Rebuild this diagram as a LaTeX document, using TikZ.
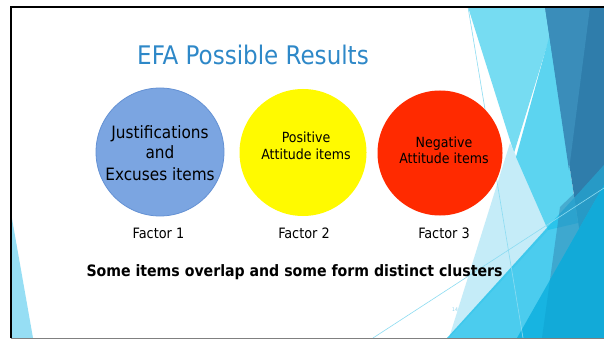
\documentclass[tikz,border=0pt]{standalone}
\usepackage{fontspec}
\setmainfont{DejaVu Sans Condensed}
\definecolor{titleblue}{RGB}{46,136,200}
\definecolor{bubbleblue}{RGB}{123,165,225}
\definecolor{bubbleedge}{RGB}{100,145,212}
\definecolor{bubbleyellow}{RGB}{255,250,0}
\definecolor{bubblered}{RGB}{255,42,0}
\definecolor{lcyan}{RGB}{118,220,242}
\definecolor{mcyan}{RGB}{92,212,240}
\definecolor{pale}{RGB}{197,236,248}
\definecolor{dblueA}{RGB}{58,141,186}
\definecolor{dblueB}{RGB}{47,125,171}
\definecolor{bcyan}{RGB}{30,192,234}
\definecolor{scyan}{RGB}{23,180,225}
\definecolor{scyandark}{RGB}{18,170,216}
\definecolor{sliver}{RGB}{150,222,244}
\definecolor{thinline}{RGB}{140,220,242}
\definecolor{pagenum}{RGB}{140,210,235}
\begin{document}
\begin{tikzpicture}[x=1pt,y=-1pt,
  bubble/.style={circle, inner sep=0pt},
  linetext/.style={anchor=base, inner sep=0pt, text=black},
  factor/.style={anchor=base, inner sep=0pt, text=black, font=\fontsize{14.3}{17}\selectfont}]
\useasboundingbox (0,0) rectangle (604,339);
\fill[white] (0,0) rectangle (604,339);
% background facets
\fill[sliver] (11,213) -- (33,338) -- (11,338) -- cycle;
\fill[lcyan] (468,7) -- (545,7) -- (550,36) -- (514,153) -- cycle;
\fill[pale] (510,143) -- (517,158) -- (552,226) -- (449,338) -- cycle;
\fill[mcyan] (550,34) -- (578,223) -- (548,230) -- (516,157) -- cycle;
\fill[dblueB] (545,7) -- (604,7) -- (604,338) -- (596,338) -- cycle;
\fill[dblueA] (545,7) -- (590,7) -- (569,170) -- cycle;
\fill[bcyan, fill opacity=0.8] (447,338) -- (604,165) -- (604,338) -- cycle;
\fill[dblueB, fill opacity=0.45] (560,207) -- (604,165) -- (604,338) -- (542,338) -- cycle;
\fill[scyan] (517,338) -- (604,185) -- (604,338) -- cycle;
\fill[scyandark] (550,280) -- (604,185) -- (604,338) -- (542,338) -- cycle;
\draw[thinline, line width=0.6pt] (468,7) -- (523,338);
\draw[thinline, line width=0.6pt] (373,338) -- (604,188);
% title
\node[anchor=base, inner sep=0pt, text=titleblue, font=\fontsize{25.6}{30}\selectfont] (title) at (253,65) {EFA Possible Results};
% bubbles
\node[bubble, minimum size=128pt, fill=bubbleblue, draw=bubbleedge, line width=0.8pt] (c1) at (160,152) {};
\node[bubble, minimum size=127pt, fill=bubbleyellow] (c2) at (303,152.5) {};
\node[bubble, minimum size=125pt, fill=bubblered] (c3) at (440,153) {};
% bubble texts
\node[linetext, font=\fontsize{17}{21}\selectfont] (t1a) at (160,138.3) {Justifications};
\node[linetext, font=\fontsize{17}{21}\selectfont] (t1b) at (160,159) {and};
\node[linetext, font=\fontsize{17}{21}\selectfont] (t1c) at (160,180) {Excuses items};
\node[linetext, font=\fontsize{14}{17}\selectfont] (t2a) at (306,142.7) {Positive};
\node[linetext, font=\fontsize{14}{17}\selectfont] (t2b) at (306,160) {Attitude items};
\node[linetext, font=\fontsize{14}{17}\selectfont] (t3a) at (444,147) {Negative};
\node[linetext, font=\fontsize{14}{17}\selectfont] (t3b) at (444,164) {Attitude items};
% factor labels
\node[factor] (f1) at (158.5,238.3) {Factor 1};
\node[factor] (f2) at (304,238) {Factor 2};
\node[factor] (f3) at (444,238) {Factor 3};
% statement
\node[linetext, font=\bfseries\fontsize{15.7}{19}\selectfont] (note) at (294.5,276) {Some items overlap and some form distinct clusters};
% page number
\node[anchor=base, inner sep=0pt, text=pagenum, font=\fontsize{5}{6}\selectfont] (page) at (455,311) {14};
% slide frame
\draw[gray, line width=1pt] (11,338.5) -- (604,338.5);
\draw[black, line width=1.8pt] (11,338) -- (11,7) -- (604,7);
\end{tikzpicture}
\end{document}
